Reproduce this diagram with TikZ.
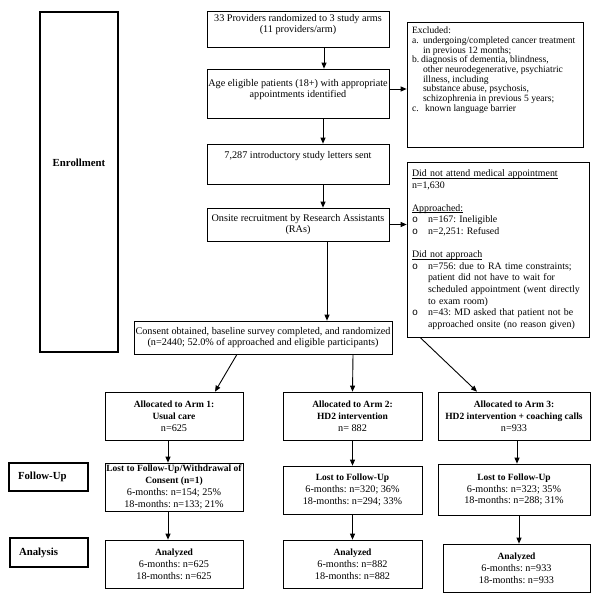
\documentclass[tikz,border=0pt]{standalone}
\usepackage{fontspec}
\setmainfont{Liberation Serif}
\newfontfamily\puce{Liberation Mono}
\usetikzlibrary{arrows.meta}
\newcommand\gras[1]{{\fontsize{9.5}{11.8}\selectfont\bfseries #1}}
\newlength\largeur
\newcommand\souligne[1]{\leavevmode\settowidth\largeur{#1}\rlap{\rule[-1.6pt]{\largeur}{0.5pt}}#1}
\frenchspacing

\begin{document}
\begin{tikzpicture}[
      x=1pt,
      y=-1pt,
      font=\fontsize{10.2}{11.8}\selectfont,
      >={Triangle[length=6pt,width=5pt]},
      boite/.style={
        draw,
        line width=0.7pt,
        inner sep=0pt,
        align=center
      },
      etape/.style={
        draw,
        line width=1.6pt,
        inner sep=0pt,
        font=\fontsize{10.8}{13}\selectfont\bfseries
      }
    ]
      \useasboundingbox (0,0) rectangle (600,601);

      \node (enr) at (79,182) [etape]{\parbox[c][340pt][t]{78pt}{\vspace*{147pt}\centering Enrollment}};
      \node (fu) at (48.5,477) [etape,text width=61pt,inner xsep=9pt,minimum height=28pt,align=left]{Follow-Up};
      \node (ana) at (49,552.5) [etape,text width=60pt,inner xsep=9pt,minimum height=29pt,align=left]{Analysis};

      \node (prov) at (298,29) [boite]{\parbox[c][36pt][t]{182pt}{\vspace*{3pt}\centering 33 Providers randomized to 3 study arms\\(11 providers/arm)}};
      \node (age) at (298,93.5) [boite]{\parbox[c][49pt][t]{182pt}{\vspace*{10pt}\centering Age eligible patients (18+) with appropriate\\appointments identified}};
      \node (lett) at (298,164) [boite]{\parbox[c][40pt][t]{182pt}{\vspace*{7pt}\centering 7,287 introductory study letters sent}};
      \node (onsite) at (298,224.5) [boite,minimum width=182pt,minimum height=33pt]{Onsite recruitment by Research Assistants\\(RAs)};
      \node (cons) at (263,337.5) [boite,minimum width=258pt,minimum height=33pt]{Consent obtained, baseline survey completed, and randomized\\(n=2440; 52.0\% of approached and eligible participants)};

      \node (excl) at (495,84.5) [boite,inner xsep=5pt]{\parbox[c][125pt][t]{166pt}{\fontsize{9.6}{9.7}\selectfont\raggedright\vspace*{5pt}%
        Excluded:\\
        \makebox[11pt][l]{a.}undergoing/completed cancer treatment\\
        \hspace*{11pt}in previous 12 months;\\
        \makebox[9pt][l]{b.}diagnosis of dementia, blindness,\\
        \hspace*{11pt}other neurodegenerative, psychiatric\\
        \hspace*{11pt}illness, including\\
        \hspace*{11pt}substance abuse, psychosis,\\
        \hspace*{11pt}schizophrenia in previous 5 years;\\
        \makebox[13pt][l]{c.}known language barrier}};
      \node (dna) at (498,249.5) [boite,inner xsep=5pt,text width=172pt,minimum height=175pt,align=left,font=\fontsize{9.9}{11.6}\selectfont]{%
        \souligne{Did not attend medical appointment}\\
        n=1,630\\[11.6pt]
        \souligne{Approached:}\\
        \makebox[16pt][l]{\puce o}n=167: Ineligible\\
        \makebox[16pt][l]{\puce o}n=2,251: Refused\\[11.6pt]
        \souligne{Did not approach}\\
        \makebox[16pt][l]{\puce o}n=756: due to RA time constraints;\\
        \hspace*{16pt}patient did not have to wait for\\
        \hspace*{16pt}scheduled appointment (went directly\\
        \hspace*{16pt}to exam room)\\
        \makebox[16pt][l]{\puce o}n=43: MD asked that patient not be\\
        \hspace*{16pt}approached onsite (no reason given)};

      \node (arm1) at (174,416) [boite,minimum width=138pt,minimum height=48pt]{\gras{Allocated to Arm 1:}\\\gras{Usual care}\\n=625};
      \node (arm2) at (352.5,416) [boite,minimum width=139pt,minimum height=48pt]{\gras{Allocated to Arm 2:}\\\gras{HD2 intervention}\\n= 882};
      \node (arm3) at (514,416) [boite,minimum width=152pt,minimum height=48pt]{\gras{Allocated to Arm 3:}\\\gras{HD2 intervention + coaching calls}\\n=933};

      \node (lost1) at (174,487) [boite,minimum width=138pt,minimum height=48pt]{\gras{Lost to Follow-Up/Withdrawal of}\\\gras{Consent (n=1)}\\6-months: n=154; 25\%\\18-months: n=133; 21\%};
      \node (lost2) at (352.5,490) [boite,minimum width=139pt,minimum height=48pt]{\gras{Lost to Follow-Up}\\6-months: n=320; 36\%\\18-months: n=294; 33\%};
      \node (lost3) at (514,489.5) [boite,minimum width=152pt,minimum height=51pt]{\gras{Lost to Follow-Up}\\6-months: n=323; 35\%\\18-months: n=288; 31\%};

      \node (an1) at (174,564) [boite,minimum width=138pt,minimum height=48pt]{\gras{Analyzed}\\6-months: n=625\\18-months: n=625};
      \node (an2) at (352.5,564) [boite,minimum width=139pt,minimum height=48pt]{\gras{Analyzed}\\6-months: n=882\\18-months: n=882};
      \node (an3) at (516.5,568) [boite,minimum width=147pt,minimum height=48pt]{\gras{Analyzed}\\6-months: n=933\\18-months: n=933};

      \coordinate (ae) at ([yshift=4.5pt]age.east);

      \draw[->,line width=0.9pt] ([xshift=26pt]prov.south) -- ([xshift=26pt]age.north);
      \draw[->,line width=0.9pt] ([xshift=25pt]age.south) -- ([xshift=25pt]lett.north);
      \draw[->,line width=0.9pt] ([xshift=25pt]lett.south) -- ([xshift=25pt]onsite.north);
      \draw[->,line width=0.9pt] ([xshift=29pt]onsite.south) -- ([xshift=64pt]cons.north);

      \draw[->,line width=0.9pt] (ae) -- (ae -| excl.west);
      \draw[->,line width=0.9pt] (onsite.east) -- (onsite.east -| dna.west);

      \draw[->,line width=0.9pt] ([xshift=-26pt]cons.south) -- ([xshift=41pt]arm1.north);
      \draw[->,line width=0.9pt] ([xshift=90pt]cons.south) -- (arm2.north);
      \draw[->,line width=0.9pt] ([xshift=-78pt]dna.south) -- ([xshift=-37pt]arm3.north);

      \draw[->,line width=0.9pt] ([xshift=-6pt]arm1.south) -- ([xshift=-6pt]lost1.north);
      \draw[->,line width=0.9pt] (arm2.south) -- (lost2.north);
      \draw[->,line width=0.9pt] ([xshift=3pt]arm3.south) -- ([xshift=3pt]lost3.north);

      \draw[->,line width=0.9pt] ([xshift=-6pt]lost1.south) -- ([xshift=-6pt]an1.north);
      \draw[->,line width=0.9pt] (lost2.south) -- (an2.north);
      \draw[->,line width=0.9pt] ([xshift=5pt]lost3.south) -- ([xshift=2.5pt]an3.north);

    \end{tikzpicture}
\end{document}
